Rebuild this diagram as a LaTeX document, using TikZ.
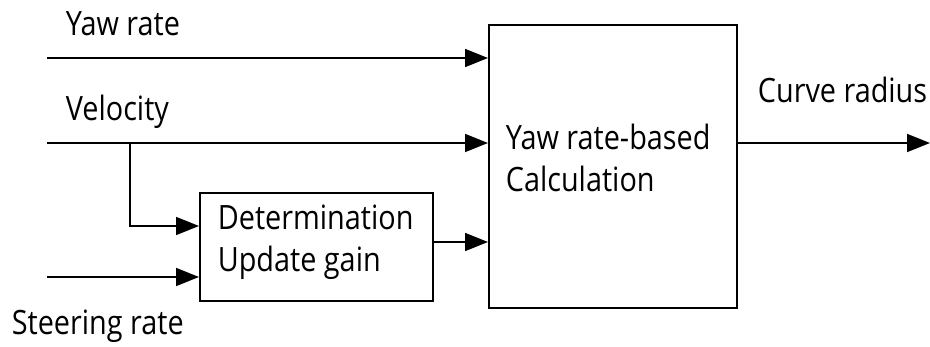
\documentclass[tikz,border=0pt]{standalone}
\usepackage{fontspec}
\setmainfont[FakeStretch=0.86]{Open Sans}
\usetikzlibrary{arrows.meta}
\begin{document}
\begin{tikzpicture}[x=1pt,y=-1pt,
  line width=1.7pt,
  block/.style={draw, line width=1.7pt, inner sep=0pt, anchor=north west},
  arr/.style={-{Triangle[length=23pt,width=18pt]}},
  lbl/.style={anchor=base west, inner sep=0pt, font=\fontsize{33.5}{42}\selectfont},
  blocktext/.style={anchor=north west, inner sep=0pt, align=left, font=\fontsize{33.5}{42}\selectfont}]
  \useasboundingbox (0,0) rectangle (930,347);

  % blocks
  \node[block, minimum width=248pt, minimum height=283pt] (calc) at (488,24) {};
  \node[block, minimum width=233pt, minimum height=108pt] (det) at (199,192) {};

  % block texts
  \node[blocktext] (calctxt) at (505,123) {Yaw rate-based\\Calculation};
  \node[blocktext] (dettxt) at (217,204) {Determination\\Update gain};

  % signal labels
  \node[lbl] (lyaw) at (65,36) {Yaw rate};
  \node[lbl] (lvel) at (65,121) {Velocity};
  \node[lbl] (lsteer) at (11,335) {Steering rate};
  \node[lbl, anchor=base east] (lcurve) at (928,103) {Curve radius};

  % free ends and junction points
  \coordinate (yawin) at (47,58);
  \coordinate (velin) at (47,143);
  \coordinate (steerin) at (47,277);
  \coordinate (branch) at (130,143);
  \coordinate (detin1) at (199,226);
  \coordinate (detout) at (432,242);
  \coordinate (curveout) at (930,143);

  % connectors
  \draw[arr] (yawin) -- (yawin -| calc.west);
  \draw[arr] (velin) -- (velin -| calc.west);
  \draw[arr] (branch) |- (detin1);
  \draw[arr] (steerin) -- (steerin -| det.west);
  \draw[arr] (detout) -- (detout -| calc.west);
  \draw[arr] (calc.east |- curveout) -- (curveout);
\end{tikzpicture}
\end{document}
